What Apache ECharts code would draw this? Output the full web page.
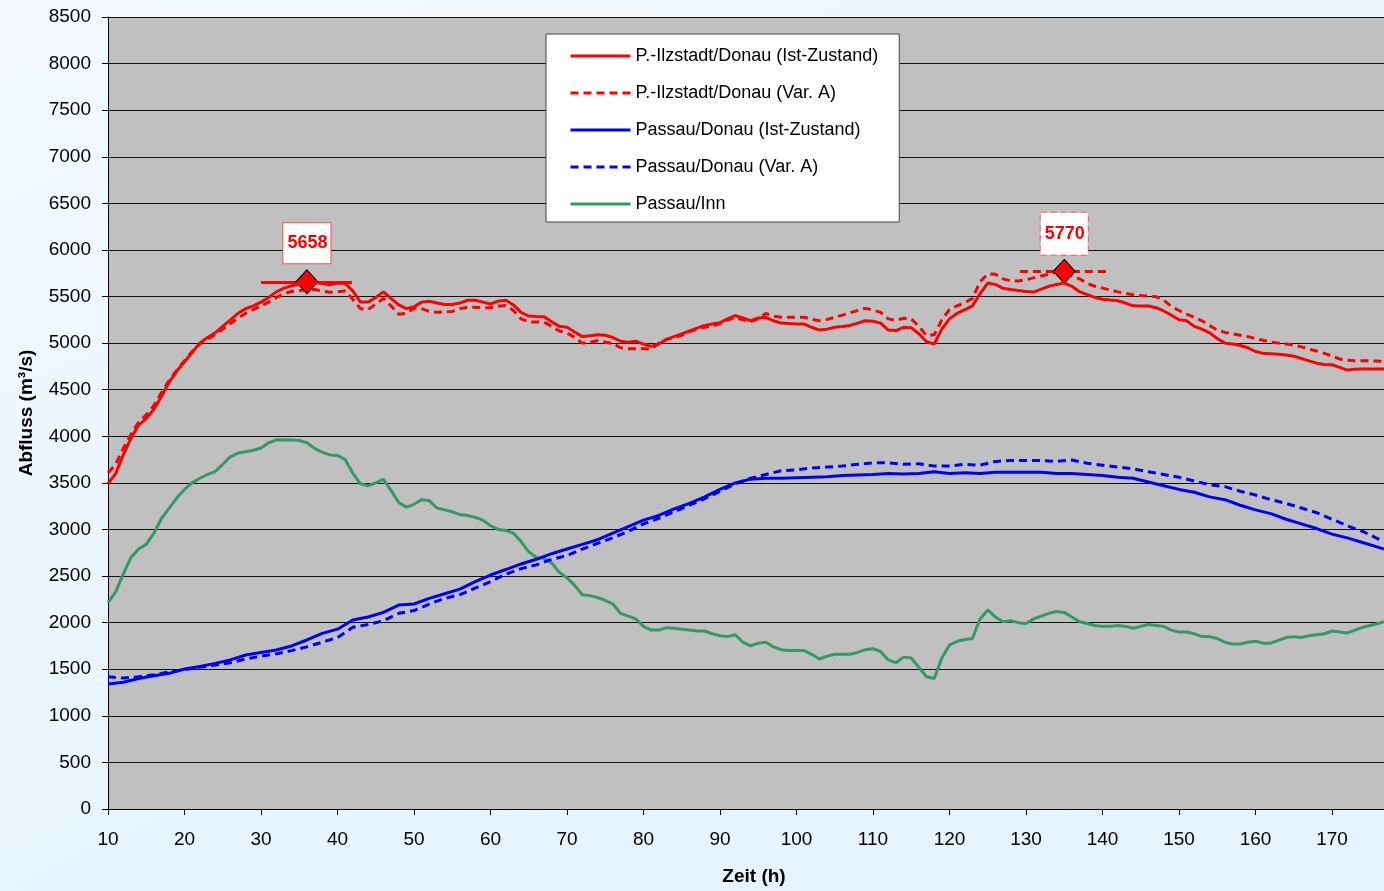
<!DOCTYPE html>
<html>
<head>
<meta charset="utf-8">
<script src="https://cdn.jsdelivr.net/npm/echarts@6/dist/echarts.min.js"></script>
<style>html,body{margin:0;padding:0;}#c{width:1384px;height:891px;}</style>
</head>
<body>
<div id="c"></div>
<script>
// ---- Data ----
const seriesNames = ["P.-Ilzstadt/Donau (Ist-Zustand)", "P.-Ilzstadt/Donau (Var. A)", "Passau/Donau (Ist-Zustand)", "Passau/Donau (Var. A)", "Passau/Inn"];

const hoursHourly = [10,11,12,13,14,15,16,17,18,19,20,21,22,23,24,25,26,27,28,29,30,31,32,33,34,35,36,37,38,39,40,41,42,43,44,45,46,47,48,49,50,51,52,53,54,55,56,57,58,59,60,61,62,63,64,65,66,67,68,69,70,71,72,73,74,75,76,77,78,79,80,81,82,83,84,85,86,87,88,89,90,91,92,93,94,95,96,97,98,99,100,101,102,103,104,105,106,107,108,109,110,111,112,113,114,115,116,117,118,119,120,121,122,123,124,125,126,127,128,129,130,131,132,133,134,135,136,137,138,139,140,141,142,143,144,145,146,147,148,149,150,151,152,153,154,155,156,157,158,159,160,161,162,163,164,165,166,167,168,169,170,171,172,173,174,175,176,176.8];

const ilzIst = [3490,3600,3800,3980,4120,4190,4290,4430,4580,4700,4800,4900,5000,5060,5110,5180,5250,5320,5370,5400,5440,5490,5550,5590,5615,5635,5650,5650,5640,5625,5645,5640,5560,5440,5440,5490,5550,5480,5410,5370,5390,5440,5450,5430,5415,5415,5430,5460,5460,5440,5420,5450,5460,5410,5330,5290,5285,5283,5230,5180,5170,5120,5070,5080,5090,5085,5060,5020,5010,5020,4990,4965,4990,5040,5070,5100,5130,5160,5190,5205,5220,5260,5294,5270,5240,5270,5275,5240,5215,5210,5205,5205,5170,5140,5150,5170,5178,5190,5215,5240,5235,5215,5140,5135,5170,5165,5100,5015,4990,5150,5260,5320,5360,5400,5530,5645,5630,5588,5575,5565,5555,5548,5580,5610,5630,5645,5610,5552,5520,5490,5470,5462,5455,5430,5400,5398,5398,5380,5345,5300,5250,5240,5180,5150,5110,5050,5000,4990,4975,4950,4910,4890,4885,4880,4872,4860,4835,4810,4785,4770,4768,4740,4711,4720,4722,4722,4722,4722];

const ilzVarA = [3606,3700,3870,4020,4150,4230,4330,4470,4600,4710,4810,4910,4990,5040,5090,5150,5210,5270,5320,5360,5400,5440,5490,5530,5555,5565,5570,5575,5560,5545,5550,5560,5470,5370,5360,5420,5480,5400,5310,5320,5375,5370,5340,5330,5335,5340,5370,5385,5385,5380,5380,5395,5405,5350,5260,5228,5226,5226,5180,5130,5110,5060,5000,5010,5025,5010,4995,4950,4940,4940,4940,4935,5000,5040,5060,5085,5120,5150,5170,5185,5210,5250,5273,5250,5230,5260,5319,5290,5277,5277,5277,5277,5255,5240,5255,5277,5300,5325,5350,5373,5355,5330,5260,5245,5266,5260,5180,5080,5090,5250,5362,5400,5434,5480,5659,5741,5740,5690,5668,5666,5680,5700,5720,5740,5762,5770,5720,5690,5640,5610,5590,5570,5550,5535,5520,5510,5505,5498,5460,5395,5350,5310,5275,5240,5190,5140,5115,5100,5085,5070,5050,5030,5012,5000,4990,4978,4960,4935,4915,4890,4860,4830,4815,4810,4810,4810,4808,4800];

const innVals = [2214,2330,2520,2700,2790,2840,2960,3120,3230,3340,3430,3500,3550,3590,3620,3700,3780,3820,3835,3850,3875,3930,3960,3962,3960,3955,3931,3870,3830,3800,3795,3750,3603,3490,3470,3500,3538,3420,3290,3240,3270,3320,3310,3230,3210,3190,3160,3150,3130,3100,3040,3000,2990,2960,2870,2760,2700,2690,2640,2540,2480,2400,2300,2290,2270,2240,2200,2100,2070,2040,1960,1920,1920,1945,1940,1930,1920,1910,1910,1880,1860,1850,1870,1790,1750,1780,1790,1740,1710,1700,1700,1700,1660,1610,1640,1660,1660,1660,1680,1710,1720,1690,1600,1570,1630,1620,1520,1420,1400,1620,1760,1800,1820,1830,2040,2136,2060,2010,2020,2000,1990,2040,2070,2100,2120,2110,2060,2010,1990,1970,1960,1960,1970,1960,1940,1960,1980,1970,1960,1920,1900,1900,1880,1850,1850,1830,1790,1770,1770,1790,1800,1780,1780,1810,1840,1850,1840,1860,1870,1880,1910,1900,1890,1920,1950,1970,1990,2010];

const hoursBlue = [10,12,14,16,18,20,22,24,26,28,30,32,34,36,38,40,42,44,46,48,50,52,54,56,58,60,62,64,66,68,70,72,74,76,78,80,82,84,86,88,90,92,94,96,98,100,102,104,106,108,110,112,114,116,118,120,122,124,126,128,130,132,134,136,138,140,142,144,146,148,150,152,154,156,158,160,162,164,166,168,170,172,174,176,176.8];

const passauIst = [1341,1360,1400,1430,1456,1502,1530,1563,1600,1653,1680,1706,1750,1814,1885,1930,2028,2060,2110,2189,2200,2260,2310,2360,2440,2511,2570,2630,2680,2740,2790,2840,2890,2960,3030,3100,3150,3220,3280,3350,3430,3500,3540,3550,3550,3555,3560,3565,3580,3585,3590,3600,3595,3600,3620,3600,3610,3600,3615,3615,3615,3615,3600,3600,3590,3580,3560,3550,3510,3470,3430,3400,3350,3320,3260,3210,3170,3110,3060,3010,2950,2910,2860,2810,2790];

const passauVarA = [1420,1405,1420,1440,1470,1495,1520,1545,1570,1610,1640,1665,1700,1740,1790,1840,1950,1980,2020,2100,2130,2200,2260,2300,2370,2440,2520,2580,2620,2680,2720,2790,2850,2910,2980,3060,3120,3190,3260,3330,3410,3490,3550,3590,3630,3640,3660,3670,3680,3700,3715,3715,3700,3705,3680,3680,3700,3690,3730,3740,3740,3740,3730,3745,3710,3690,3670,3650,3620,3590,3560,3520,3480,3460,3410,3370,3320,3280,3230,3180,3110,3040,2980,2900,2880];

// Peak annotations
const peakIst = {x: 36, y: 5658, from: 30, to: 41.9};
const peakVarA = {x: 135, y: 5770, from: 129.2, to: 140.6};

const yTicks = {min: 0, max: 8500, interval: 500};
const xTicks = {min: 10, max: 176.8, interval: 10};

// ---- Chart ----
const pair = (xs, ys) => xs.map((x, i) => [x, ys[i]]);
const FONT = '"Liberation Sans", Arial, sans-serif';
const chart = echarts.init(document.getElementById('c'), null, {renderer: 'canvas'});

function peakLabel(dashed) {
  return {
    show: true, position: 'top', distance: dashed ? 4 : 6,
    formatter: '{c}', color: '#ff0000', fontWeight: 'bold', fontSize: 18, fontFamily: FONT,
    lineHeight: 18,
    backgroundColor: '#ffffff', borderColor: '#ff5050', borderWidth: 1,
    borderType: dashed ? [6, 4] : 'solid',
    padding: dashed ? [12, 3, 12, 4] : [11, 3, 11, 4]
  };
}

const option = {
  animation: false,
  backgroundColor: {
    type: 'linear', x: 0, y: 0, x2: 0.3, y2: 1,
    colorStops: [{offset: 0, color: '#f3f9fe'}, {offset: 1, color: '#e6f3fd'}]
  },
  textStyle: {fontFamily: FONT},
  grid: {left: 108, right: 0, top: 17, bottom: 82, show: true, backgroundColor: '#c0c0c0', borderWidth: 0, containLabel: false},
  legend: {
    orient: 'vertical', left: 546, top: 34,
    backgroundColor: '#ffffff', borderColor: '#444444', borderWidth: 1,
    padding: [13, 21, 9, 23], itemGap: 19, itemWidth: 60, itemHeight: 14,
    itemStyle: {opacity: 0},
    lineStyle: {width: 3},
    textStyle: {fontSize: 18, color: '#000', fontFamily: FONT},
    data: seriesNames
  },
  xAxis: {
    type: 'value', min: xTicks.min, max: xTicks.max, interval: xTicks.interval,
    name: 'Zeit (h)', nameLocation: 'middle', nameGap: 58,
    nameTextStyle: {fontWeight: 'bold', fontSize: 19, color: '#000', fontFamily: FONT, padding: [0, 0, 0, 16]},
    axisLine: {show: true, onZero: false, lineStyle: {color: '#000', width: 1}},
    axisTick: {show: true, length: 6, lineStyle: {color: '#000'}},
    axisLabel: {fontSize: 19, color: '#000', margin: 21, showMaxLabel: false, fontFamily: FONT, formatter: v => String(v)},
    splitLine: {show: false}
  },
  yAxis: {
    type: 'value', min: yTicks.min, max: yTicks.max, interval: yTicks.interval,
    name: 'Abfluss (m³/s)', nameLocation: 'middle', nameGap: 72,
    nameTextStyle: {fontWeight: 'bold', fontSize: 19, color: '#000', fontFamily: FONT},
    axisLine: {show: true, lineStyle: {color: '#000', width: 1}},
    axisTick: {show: true, length: 6, lineStyle: {color: '#000'}},
    axisLabel: {fontSize: 19, color: '#000', margin: 17, fontFamily: FONT, formatter: v => String(v)},
    splitLine: {show: true, lineStyle: {color: '#111', width: 1}}
  },
  series: [
    {
      name: seriesNames[0], type: 'line', symbol: 'none', data: pair(hoursHourly, ilzIst),
      lineStyle: {color: '#ff0000', width: 3}, itemStyle: {color: '#ff0000'}, z: 5,
      markLine: {
        silent: true, symbol: 'none', label: {show: false},
        lineStyle: {color: '#ff0000', width: 3, type: 'solid'},
        data: [[{coord: [peakIst.from, peakIst.y]}, {coord: [peakIst.to, peakIst.y]}]]
      },
      markPoint: {
        symbol: 'diamond', symbolSize: [22, 24],
        itemStyle: {color: '#ff0000', borderColor: '#000', borderWidth: 1, opacity: 1},
        label: peakLabel(false),
        data: [{coord: [peakIst.x, peakIst.y], value: peakIst.y}]
      }
    },
    {
      name: seriesNames[1], type: 'line', symbol: 'none', data: pair(hoursHourly, ilzVarA),
      lineStyle: {color: '#ff0000', width: 3, type: [8, 5]}, itemStyle: {color: '#ff0000'}, z: 4,
      markLine: {
        silent: true, symbol: 'none', label: {show: false},
        lineStyle: {color: '#ff0000', width: 3, type: [8, 5]},
        data: [[{coord: [peakVarA.from, peakVarA.y]}, {coord: [peakVarA.to, peakVarA.y]}]]
      },
      markPoint: {
        symbol: 'diamond', symbolSize: [22, 24],
        itemStyle: {color: '#ff0000', borderColor: '#000', borderWidth: 1, opacity: 1},
        label: peakLabel(true),
        data: [{coord: [peakVarA.x, peakVarA.y], value: peakVarA.y}]
      }
    },
    {
      name: seriesNames[2], type: 'line', symbol: 'none', data: pair(hoursBlue, passauIst),
      lineStyle: {color: '#0000ff', width: 3}, itemStyle: {color: '#0000ff'}, z: 3
    },
    {
      name: seriesNames[3], type: 'line', symbol: 'none', data: pair(hoursBlue, passauVarA),
      lineStyle: {color: '#0000ff', width: 3, type: [8, 5]}, itemStyle: {color: '#0000ff'}, z: 3
    },
    {
      name: seriesNames[4], type: 'line', symbol: 'none', data: pair(hoursHourly, innVals),
      lineStyle: {color: '#339966', width: 3}, itemStyle: {color: '#339966'}, z: 2
    }
  ]
};
chart.setOption(option);
</script>
</body>
</html>
